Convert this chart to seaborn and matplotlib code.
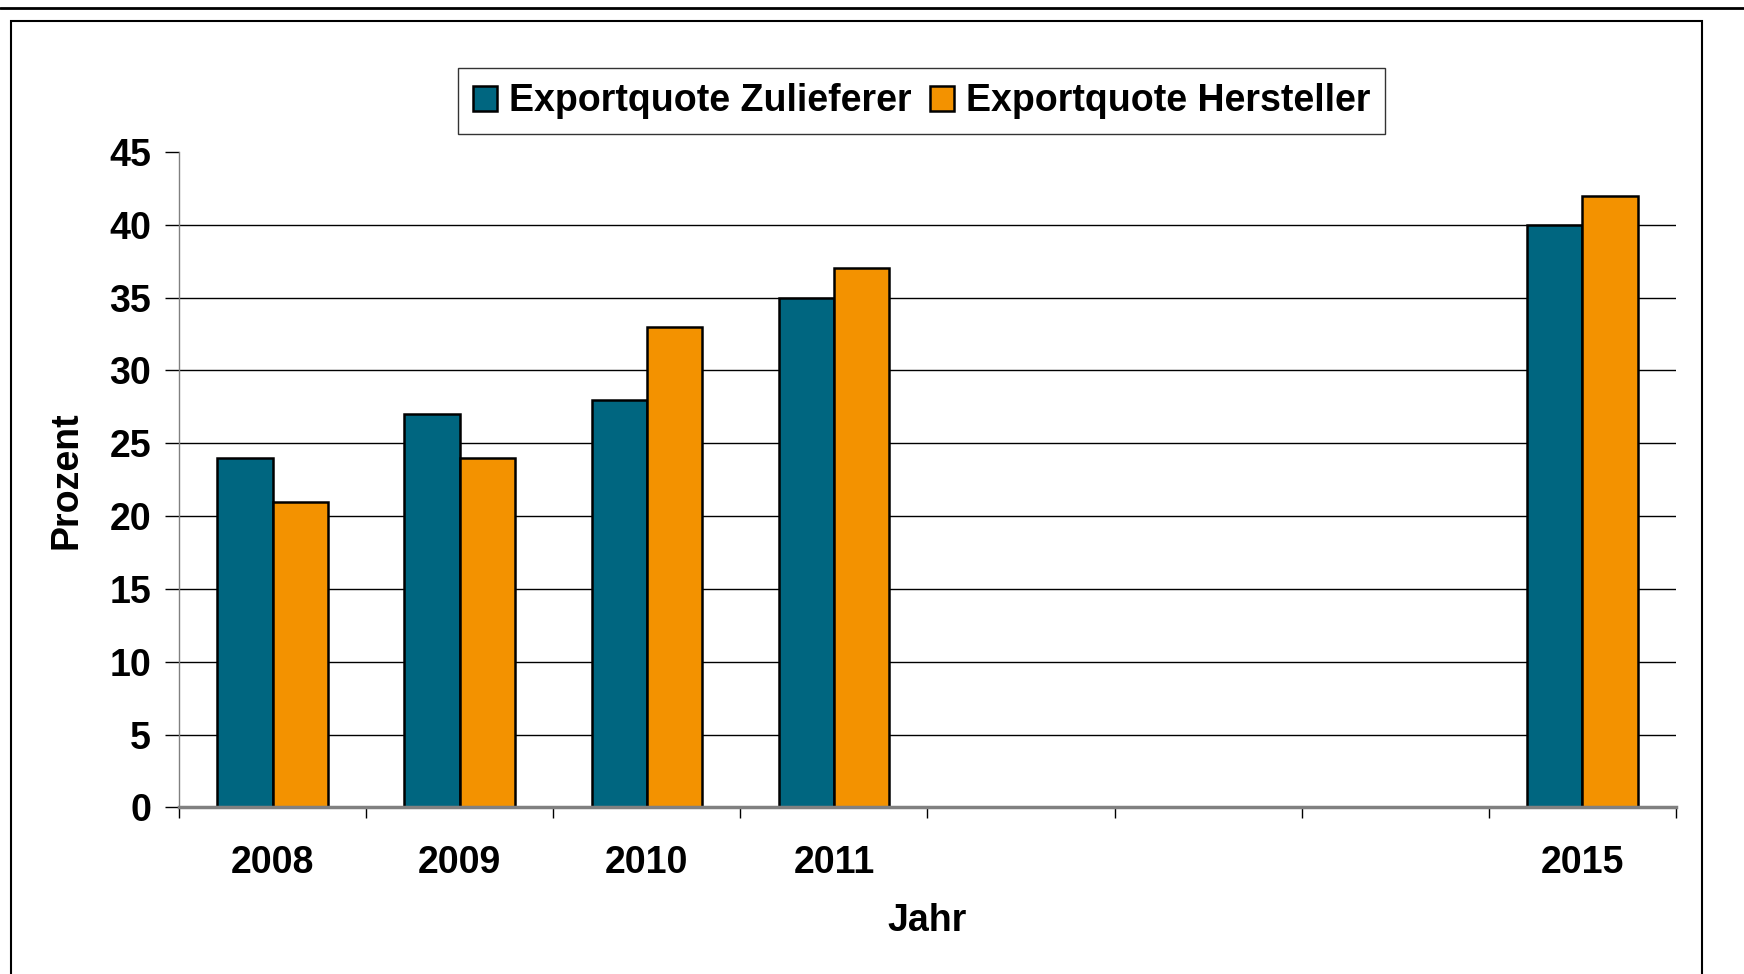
import numpy as np
import pandas as pd
import matplotlib
matplotlib.use("Agg")
import matplotlib.pyplot as plt
from matplotlib.patches import Rectangle
from matplotlib.lines import Line2D
import seaborn as sns

# Data
years = ["2008", "2009", "2010", "2011", "2015"]
zulieferer = [24, 27, 28, 35, 40]
hersteller = [21, 24, 33, 37, 42]
# category slots on the x axis (2012-2014 are empty in the original)
slots = ["2008", "2009", "2010", "2011", "2012", "2013", "2014", "2015"]
x_labels = ["2008", "2009", "2010", "2011", "", "", "", "2015"]
series_names = ["Exportquote Zulieferer", "Exportquote Hersteller"]
colors = ["#006680", "#F39200"]

df = pd.DataFrame({
    "Jahr": years * 2,
    "Prozent": zulieferer + hersteller,
    "Serie": [series_names[0]] * len(years) + [series_names[1]] * len(years),
})

sns.set_theme(style="white")
plt.rcParams["font.family"] = ["Liberation Sans", "DejaVu Sans"]
plt.rcParams["font.weight"] = "bold"
plt.rcParams["text.color"] = "black"
plt.rcParams["axes.labelcolor"] = "black"
plt.rcParams["xtick.color"] = "black"
plt.rcParams["ytick.color"] = "black"

FS = 27

fig = plt.figure(figsize=(17.44, 9.74), dpi=100)
ax = fig.add_axes([0.1026, 0.171, 0.8584, 0.673])

sns.barplot(data=df, x="Jahr", y="Prozent", hue="Serie", order=slots,
            hue_order=series_names, palette=colors, width=0.59,
            edgecolor="black", linewidth=1.8, saturation=1, ax=ax)

# axes limits and ticks
ax.set_xlim(-0.5, len(slots) - 0.5)
ax.set_ylim(0, 45)
ax.set_yticks(np.arange(0, 46, 5))
ax.set_yticklabels([str(v) for v in range(0, 46, 5)], fontsize=FS, fontweight="bold")

# tick marks between categories, labels centred under them
ax.set_xticks(np.arange(len(slots) + 1) - 0.5)
ax.set_xticklabels([])
ax.set_xticks(np.arange(len(slots)), minor=True)
ax.set_xticklabels(x_labels, minor=True, fontsize=FS, fontweight="bold")
ax.tick_params(axis="x", which="major", direction="out", length=8, width=1, color="black", bottom=True)
ax.tick_params(axis="x", which="minor", length=0, pad=27)
ax.tick_params(axis="y", direction="out", length=10, width=1, color="black", pad=10, left=True)

# grid
ax.set_axisbelow(True)
ax.yaxis.grid(True, color="black", linewidth=1)
ax.xaxis.grid(False)
ax.get_ygridlines()[-1].set_visible(False)

# spines
for s in ["top", "right"]:
    ax.spines[s].set_visible(False)
ax.spines["left"].set_color("#808080")
ax.spines["left"].set_linewidth(1)
ax.spines["bottom"].set_color("#808080")
ax.spines["bottom"].set_linewidth(2.5)

# axis labels
ax.set_xlabel("Jahr", fontsize=FS, fontweight="bold", va="center")
ax.xaxis.set_label_coords(0.5, -0.173)
ax.set_ylabel("Prozent", fontsize=FS, fontweight="bold", va="center")
ax.yaxis.set_label_coords(-0.075, 0.5)

# legend
sns.move_legend(ax, loc="center", bbox_to_anchor=(0.496, 1.077), ncol=2, title=None,
                frameon=True, fancybox=False, fontsize=FS, handlelength=0.65,
                handleheight=0.65, handletextpad=0.3, columnspacing=0.5,
                borderpad=0.4, borderaxespad=0)
leg = ax.get_legend()
leg.get_frame().set_edgecolor("black")
leg.get_frame().set_linewidth(1.0)
for t in leg.get_texts():
    t.set_fontweight("bold")
    t.set_color("black")

# outer frame like the original screenshot
fig.add_artist(Line2D([0, 1], [1 - 8 / 974] * 2, color="black", linewidth=2,
                      transform=fig.transFigure))
fig.add_artist(Rectangle((11 / 1744, -0.1), (1702 - 11) / 1744, 1.1 - 21 / 974,
                         transform=fig.transFigure, fill=False,
                         edgecolor="black", linewidth=1.5))

fig.savefig("out.png", dpi=100)
